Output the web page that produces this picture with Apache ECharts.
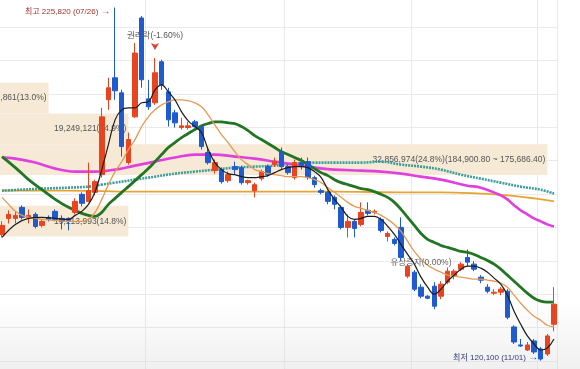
<!DOCTYPE html>
<html>
<head>
<meta charset="utf-8">
<script src="https://cdn.jsdelivr.net/npm/echarts@6/dist/echarts.min.js"></script>
<style>
  html, body { margin: 0; padding: 0; background: #fff; }
  #chart { width: 580px; height: 369px; }
</style>
</head>
<body>
<div id="chart"></div>
<script>
// trading days, 2021-07-01 .. 2021-11-03
const dates = [
  '07/01','07/02','07/05','07/06','07/07','07/08','07/09','07/12','07/13','07/14','07/15','07/16','07/19','07/20','07/21','07/22','07/23','07/26','07/27','07/28','07/29','07/30',
  '08/02','08/03','08/04','08/05','08/06','08/09','08/10','08/11','08/12','08/13','08/17','08/18','08/19','08/20','08/23','08/24','08/25','08/26','08/27','08/30','08/31',
  '09/01','09/02','09/03','09/06','09/07','09/08','09/09','09/10','09/13','09/14','09/15','09/16','09/17','09/23','09/24','09/27','09/28','09/29','09/30',
  '10/01','10/05','10/06','10/07','10/08','10/12','10/13','10/14','10/15','10/18','10/19','10/20','10/21','10/22','10/25','10/26','10/27','10/28','10/29',
  '11/01','11/02','11/03'
];

// [open, close, low, high]
const candles = [
  [157900,160600,157000,161800],[162700,163900,161200,165100],[162700,163600,161200,164800],[166000,163000,162400,166600],
  [163000,163600,161200,165400],[163900,160300,159700,164500],[160600,161800,160000,162400],[163000,162400,161800,163600],
  [164800,162400,161800,165400],[162700,161800,159400,163600],[162700,162100,159100,163000],[164500,167800,163900,168700],
  [169900,167200,166300,170500],[167800,171000,167500,179400],[170500,173700,169600,174300],[175800,193100,174900,195800],
  [198200,201800,195200,204800],[204800,200900,198200,225820],[200300,184200,181200,201200],[179400,186300,178800,188400],
  [193100,212200,192800,215200],[222700,204200,201800,223300],[198500,196100,195200,204200],[197300,206300,196700,210700],
  [209600,202700,201200,210200],[200600,192200,190200,201800],[194300,191300,189900,195200],[189900,190400,189300,192800],
  [189900,190400,189300,191600],[191600,190200,189900,192200],[190200,184200,183300,190700],[182400,179400,178800,184200],
  [177000,179400,176100,180300],[177300,173700,173100,177900],[174000,175800,173400,176700],[178200,177300,175800,179700],
  [177900,173400,172800,178500],[173400,174000,172800,174300],[171000,172800,169000,173400],[174600,176700,174000,177300],
  [178200,175800,175200,178800],[178800,179700,178200,180900],[182700,178200,177300,183900],[178200,176400,175800,178800],
  [174900,179400,174300,180300],[179400,178500,177300,180900],[179700,174900,174300,180900],[174900,172800,171900,175500],
  [171000,170500,169900,171600],[170500,167800,166900,171000],[169000,166900,165400,169600],[166000,160000,159400,166600],
  [160000,161800,157000,163900],[161800,159700,157000,162400],[160900,164500,160300,167500],[165100,164200,163600,167500],
  [164500,164800,163900,165400],[162400,159100,158500,163000],[157300,158200,155800,158800],[156400,155200,154600,157000],
  [160000,151000,149900,163000],[145400,148400,144800,149000],[146600,141500,140900,147200],[142100,139400,138800,143000],
  [139400,138800,138500,139700],[142400,136400,135500,143600],[139400,143000,138500,143900],[143600,146900,143000,148000],
  [145400,146900,144500,147500],[147500,149000,146900,149600],[151000,149600,148400,153400],[149000,147500,146900,149900],
  [145100,144200,143300,145700],[142100,140900,140300,143000],[140300,140600,139700,141500],[140600,141500,139700,142100],
  [140900,133100,132500,141500],[130200,125700,125100,130700],[124800,124500,124200,126600],[123300,124800,123000,125700],
  [126000,122700,122100,126600],[123600,120600,120100,124200],[122100,127500,121500,128100],[131000,137000,128900,142100]
];

// moving averages: [day index, price]
const ma5 = [
  [0,157000],[2,160900],[4,162700],[6,163000],[8,162700],[10,162400],[11,163600],[12,164800],[13,166900],[14,170700],
  [15,177300],[16,184800],[17,192200],[18,195200],[19,195800],[20,195800],[21,197300],[22,197600],[23,201200],[24,202700],
  [25,200600],[26,198200],[27,194600],[28,191900],[29,190200],[30,188400],[31,183300],[32,179400],[33,177300],[34,176100],
  [35,175800],[36,175200],[37,174900],[38,174900],[39,175200],[40,175500],[41,176400],[42,177300],[43,177900],[44,178200],
  [45,178200],[46,177900],[47,176700],[48,174900],[49,171300],[50,168400],[51,166000],[52,163300],[53,162400],[54,162700],
  [55,163300],[56,163300],[57,162400],[58,160300],[59,157900],[60,154900],[61,151900],[62,149000],[63,145100],[64,142100],
  [65,140000],[66,141500],[67,143900],[68,145700],[69,147500],[70,148400],[71,148400],[72,147800],[73,146600],[74,144800],
  [75,143000],[76,139700],[77,134900],[78,131000],[79,127500],[80,125100],[81,123300],[82,123900],[83,126600]
];
const ma10 = [
  [0,169000],[1,166900],[2,164800],[3,163600],[4,163000],[6,162400],[8,162100],[10,161800],[12,161800],[13,162400],
  [14,164500],[15,168400],[16,172800],[17,176700],[18,179700],[19,183300],[20,186300],[21,190200],[22,193100],[23,195200],
  [24,196700],[25,197600],[26,198200],[27,198200],[28,197900],[29,197300],[30,196100],[31,193700],[32,190700],[33,187800],
  [34,185400],[35,182700],[36,180300],[37,178800],[38,177300],[39,176700],[40,176100],[41,175800],[42,175500],[43,175200],
  [44,175200],[45,175200],[46,174900],[47,174300],[48,173400],[49,171900],[50,170500],[51,169000],[52,167500],[53,166300],
  [54,165700],[55,165100],[56,164500],[57,163600],[58,162400],[59,160900],[60,158800],[61,155800],[62,152800],[63,150500],
  [64,148700],[65,147500],[66,146600],[67,145700],[68,145400],[69,145100],[70,144800],[71,144500],[72,144500],[73,144200],
  [74,143900],[75,143300],[76,142100],[77,139700],[78,137300],[79,135200],[80,133400],[81,132200],[82,130700],[83,130200]
];
const ma20 = [
  [0,181200],[2,177900],[4,174300],[6,171300],[8,168400],[10,166000],[12,164200],[13,163600],[14,163300],[15,164500],
  [16,166900],[17,168700],[18,170500],[19,172200],[20,174000],[21,175800],[22,177600],[23,179700],[24,181800],[25,183900],
  [26,185400],[27,186900],[28,188100],[29,189300],[30,190400],[31,191100],[32,191600],[33,191600],[34,191300],[35,191100],
  [36,190200],[37,189000],[38,187500],[39,186300],[40,185100],[41,183900],[42,182700],[43,181800],[44,180900],[45,180000],
  [46,178800],[47,177600],[48,176400],[49,175500],[50,174300],[51,173400],[52,172800],[53,172200],[54,171600],[55,171300],
  [56,170700],[57,169900],[58,169000],[59,167500],[60,165400],[61,163000],[62,160600],[63,158200],[64,156400],[65,155500],
  [66,154600],[67,154000],[68,153400],[69,152800],[70,152500],[71,151900],[72,151000],[73,150100],[74,149000],[75,147500],
  [76,145700],[77,143900],[78,142100],[79,140300],[80,138800],[81,137900],[82,137600],[83,137600]
];
const ma60 = [
  [0,180900],[2,180600],[5,179400],[8,177600],[11,176700],[14,176700],[17,177300],[20,178500],[23,179700],[26,180900],
  [29,181800],[32,181800],[35,181200],[38,180600],[41,179700],[44,178800],[47,177900],[50,177300],[54,177000],[57,176700],
  [60,176100],[63,175200],[66,174300],[70,172500],[72,171900],[75,169600],[76,168400],[77,166600],[78,165100],[79,163900],
  [80,162700],[81,161800],[82,160900],[83,160300]
];
const ma120 = [
  [0,171000],[3,171300],[6,171600],[10,171900],[13,172200],[15,172800],[17,173400],[20,174300],[23,175200],[26,176100],
  [29,176700],[32,177300],[35,177900],[38,178200],[41,178500],[44,179100],[47,179400],[50,179400],[54,179400],[57,179700],
  [60,178800],[63,178200],[66,177300],[69,175800],[72,174600],[75,173400],[78,172200],[81,171300],[83,170100]
];
const ma240 = [
  [0,171000],[10,171000],[20,170700],[30,170700],[40,170700],[50,170700],[60,170500],[66,170500],[72,170100],[76,169600],
  [80,168700],[83,167800]
];

// volume profile bands: price range, volume label, reach (day index)
const bandLow = [194115.2, 184900.8, 175686.4, 157257.6];
const bandHigh = [203329.6, 194115.2, 184900.8, 166472.0];
const bandText = ['16,905,861(13.0%)', '19,249,121(14.9%)', '32,856,974(24.8%)(184,900.80 ~ 175,686.40)', '19,213,993(14.8%)'];
const bandReach = [7, 19, 82, 19];

const fmt = v => v.toLocaleString('en-US');
const highs = candles.map(c => c[3]);
const lows = candles.map(c => c[2]);
const hiIdx = highs.indexOf(Math.max(...highs));
const loIdx = lows.indexOf(Math.min(...lows));

const upColor = '#e8441f';
const downColor = '#1f5bcf';
const gridColor = '#d6d6d6';

const chart = echarts.init(document.getElementById('chart'));

const bandAreas = bandText.map((t, i) => [
  { name: t, coord: [-Infinity, bandHigh[i]] },
  { coord: [bandReach[i], bandLow[i]] }
]);

function maLine(name, data, color, width, z, extra) {
  return Object.assign({
    name: name,
    type: 'line',
    data: data,
    smooth: 0.4,
    symbol: 'none',
    z: z,
    lineStyle: { color: color, width: width },
    silent: true
  }, extra || {});
}

const option = {
  animation: false,
  backgroundColor: '#fff',
  textStyle: { fontFamily: "'Liberation Sans', 'Noto Sans CJK KR', sans-serif" },
  graphic: [{
    type: 'rect',
    left: 0,
    top: 300,
    z: -10,
    silent: true,
    shape: { width: 580, height: 69 },
    style: {
      fill: new echarts.graphic.LinearGradient(0, 0, 0, 1, [
        { offset: 0, color: 'rgba(0,0,0,0)' },
        { offset: 1, color: 'rgba(0,0,0,0.06)' }
      ])
    }
  }],
  grid: { left: -1.3, right: 22.7, top: -6.4, bottom: -25.4, outerBoundsMode: 'none', containLabel: false },
  xAxis: {
    type: 'category',
    data: dates,
    boundaryGap: true,
    axisLine: { show: false },
    axisTick: { show: false },
    axisLabel: { show: false },
    splitLine: {
      show: true,
      interval: (i) => i > 0 && dates[i].slice(0, 2) !== dates[i - 1].slice(0, 2),
      lineStyle: { color: gridColor, type: 'dotted', width: 1 }
    }
  },
  yAxis: {
    type: 'value',
    min: 110000,
    max: 230000,
    interval: 10000,
    axisLine: { show: false },
    axisTick: { show: false },
    axisLabel: { show: false },
    splitLine: { lineStyle: { color: gridColor, type: 'dotted', width: 1 } }
  },
  series: [
    {
      name: 'bands',
      type: 'line',
      data: [],
      z: 0,
      silent: true,
      markArea: {
        silent: true,
        itemStyle: { color: '#f6e9d5' },
        label: {
          show: true,
          position: 'insideRight',
          distance: 2,
          color: '#555',
          fontSize: 8.5
        },
        data: bandAreas
      }
    },
    maLine('MA240', ma240, '#e6a531', 1.8, 1),
    maLine('MA120', ma120, '#3d9d99', 2.6, 1, { lineStyle: { color: '#3d9d99', width: 2.6, type: [2, 1] } }),
    maLine('MA60', ma60, '#e040dd', 2.6, 1),
    maLine('MA20', ma20, '#227522', 2.8, 2),
    {
      name: 'price',
      type: 'candlestick',
      data: candles,
      z: 3,
      barWidth: 5,
      itemStyle: {
        color: upColor,
        color0: downColor,
        borderColor: upColor,
        borderColor0: downColor,
        borderWidth: 1
      },
      markPoint: {
        symbol: 'circle',
        symbolSize: 1,
        itemStyle: { color: 'rgba(0,0,0,0)' },
        data: [
          {
            coord: [hiIdx, highs[hiIdx]],
            label: {
              show: true,
              position: 'left',
              distance: 4,
              offset: [0, 4],
              fontSize: 8,
              formatter: '{t|최고 ' + fmt(highs[hiIdx]) + ' (' + dates[hiIdx] + ')} {a|→}',
              rich: {
                t: { color: '#a2322b', fontSize: 8 },
                a: { color: '#d8392d', fontSize: 10 }
              }
            }
          },
          {
            coord: [loIdx, lows[loIdx]],
            label: {
              show: true,
              position: 'left',
              distance: 2,
              offset: [0, -3],
              fontSize: 8,
              formatter: '{t|최저 ' + fmt(lows[loIdx]) + ' (' + dates[loIdx] + ')} {a|→}',
              rich: {
                t: { color: '#2f3a7a', fontSize: 8 },
                a: { color: '#2446d0', fontSize: 10 }
              }
            }
          },
          {
            coord: [23, highs[23]],
            symbol: 'arrow',
            symbolSize: [6, 7],
            symbolRotate: 180,
            symbolOffset: [0, -8],
            itemStyle: { color: '#e0402a' },
            label: {
              show: true,
              position: 'top',
              distance: 3,
              color: '#555',
              fontSize: 8.5,
              formatter: '권리락(-1.60%)'
            }
          },
          {
            coord: [63, 149300],
            label: {
              show: true,
              position: 'inside',
              color: '#666',
              fontSize: 8.5,
              formatter: '유상증자(0.00%)'
            }
          }
        ]
      }
    },
    maLine('MA10', ma10, '#e29a55', 1.3, 4),
    maLine('MA5', ma5, '#1c1c1c', 1.2, 5)
  ]
};

chart.setOption(option);
</script>
</body>
</html>
